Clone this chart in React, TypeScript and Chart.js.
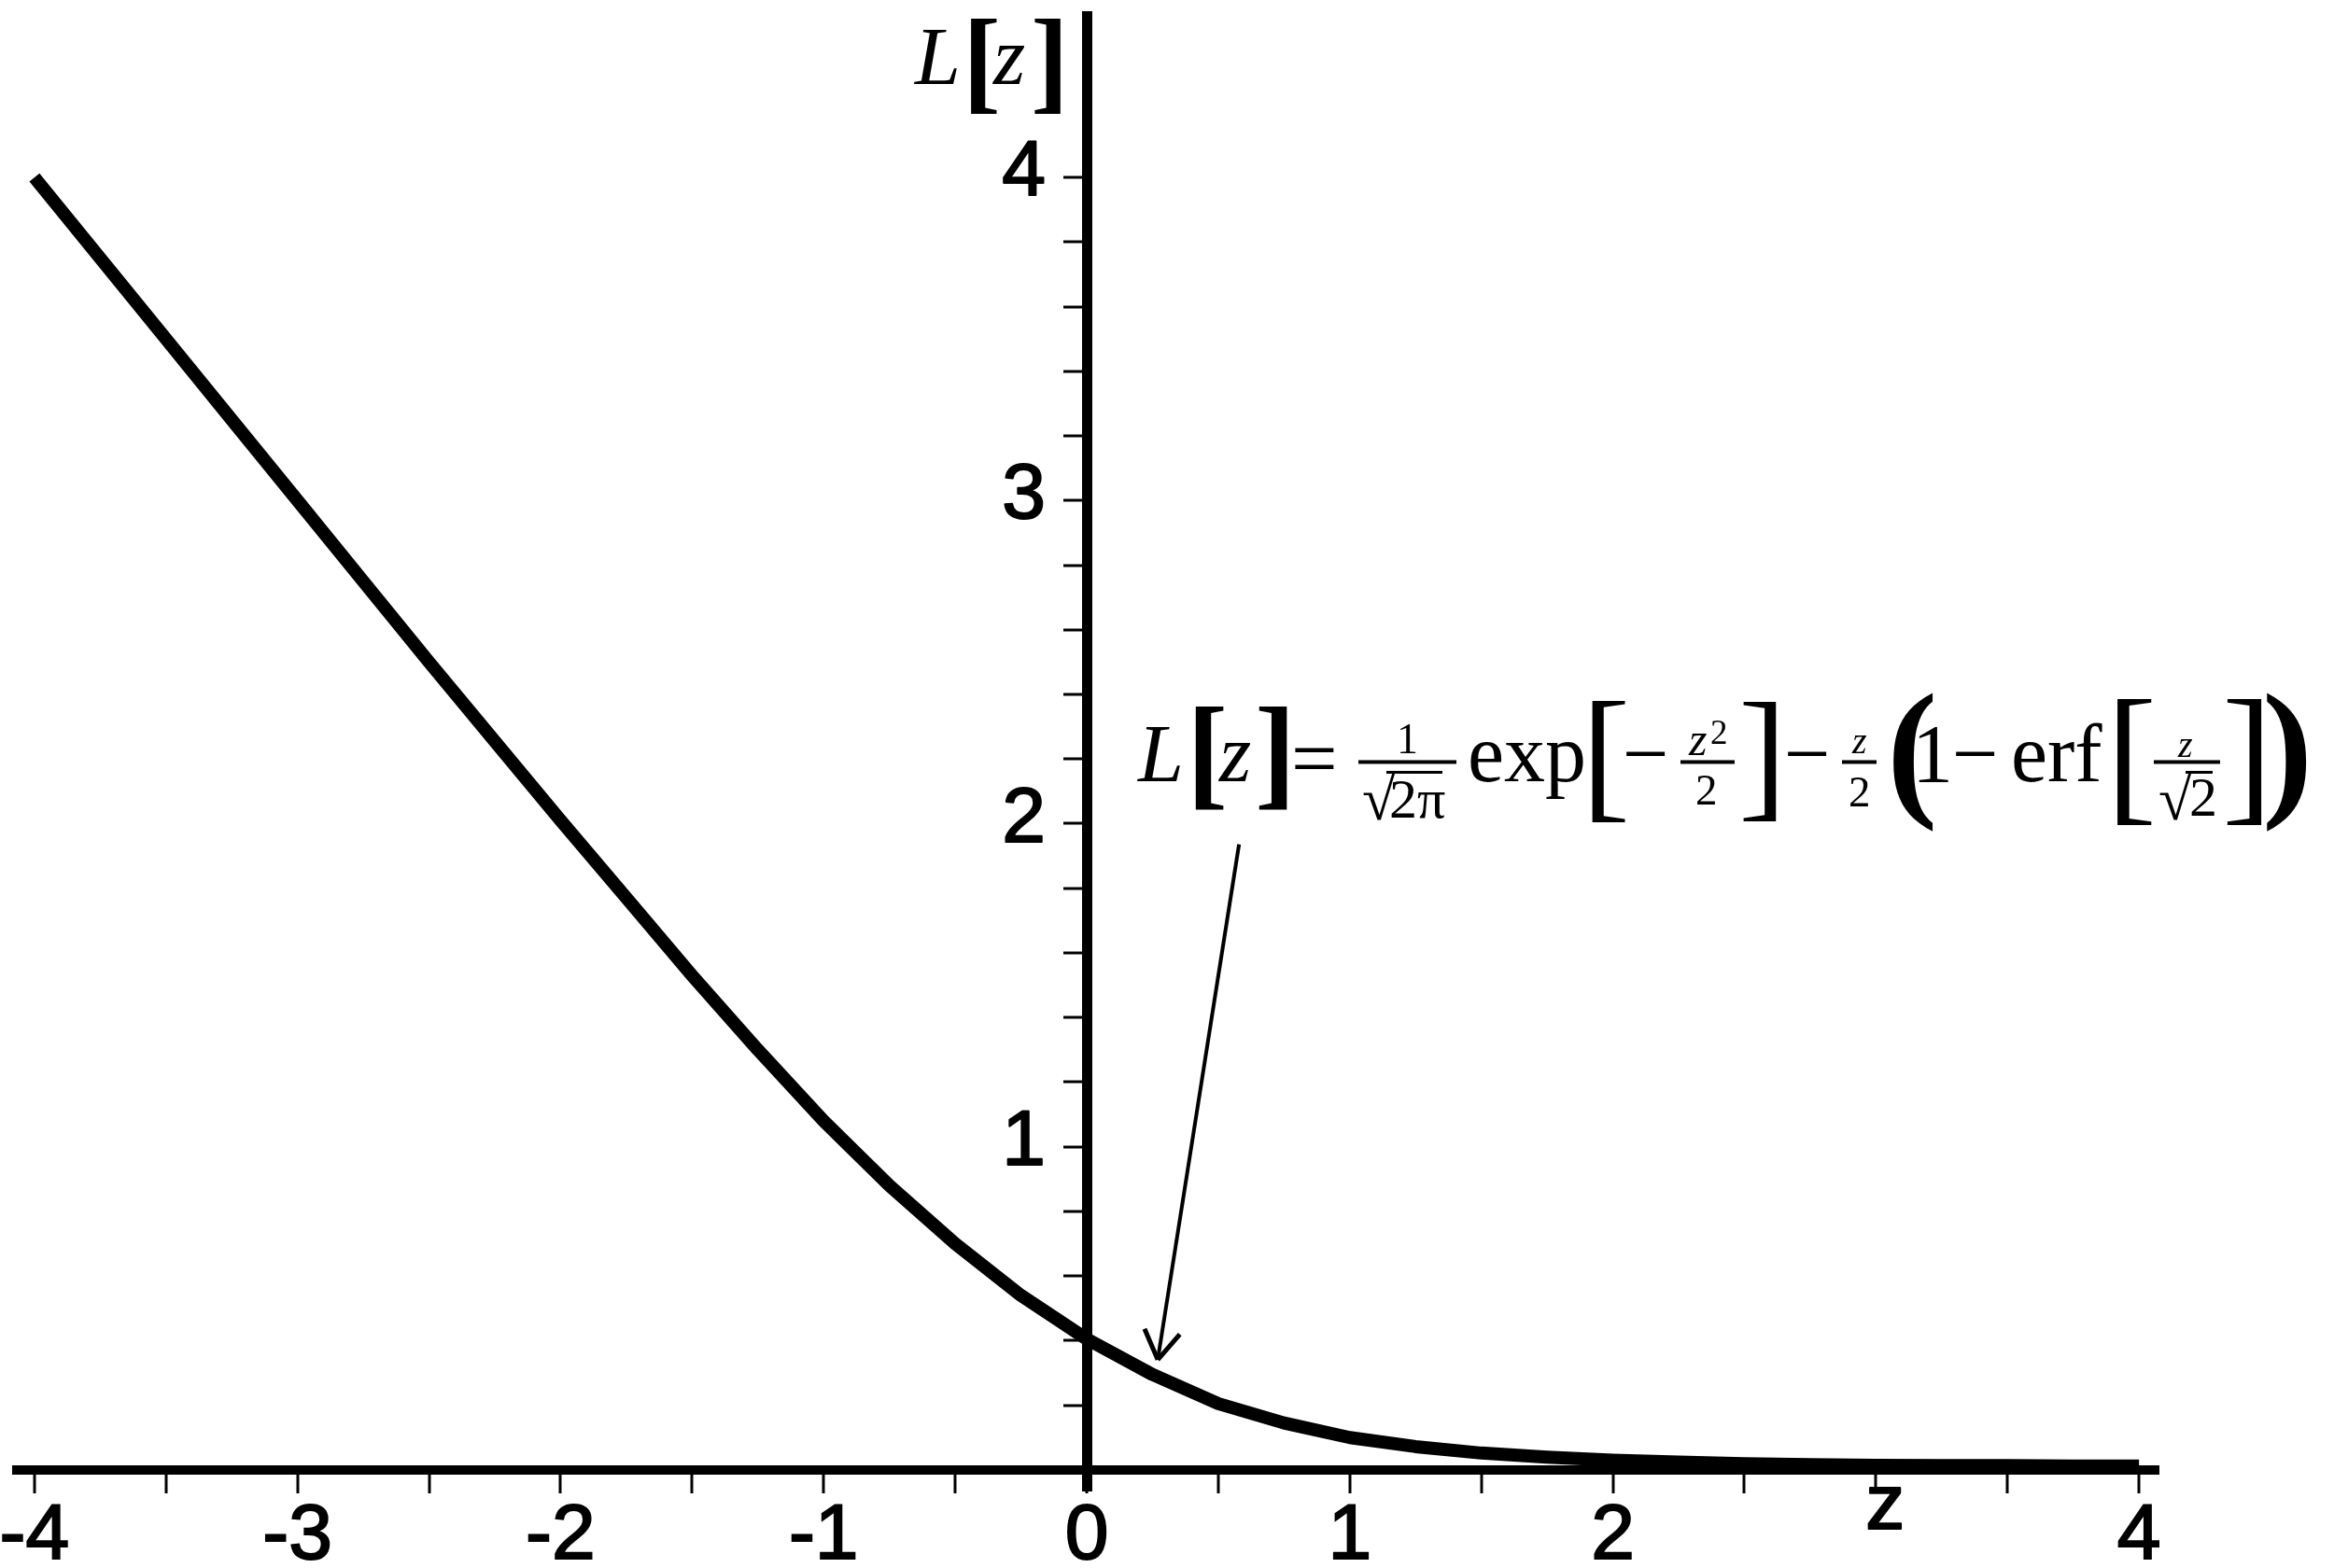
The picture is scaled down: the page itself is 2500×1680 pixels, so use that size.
import React, { useEffect, useRef } from 'react';
import { Chart, registerables } from 'chart.js';

Chart.register(...registerables);

// curve samples
const zValues = [
  -4, -3.75, -3.5, -3.25, -3, -2.75, -2.5, -2.25, -2, -1.75, -1.5, -1.25, -1, -0.75, -0.5, -0.25,
  0, 0.25, 0.5, 0.75, 1, 1.25, 1.5, 1.75, 2, 2.25, 2.5, 2.75, 3, 3.25, 3.5, 3.75, 4,
];
const lossValues = [
  4.0, 3.75, 3.5, 3.25, 3.0, 2.75, 2.5, 2.255, 2.01, 1.77, 1.53, 1.3, 1.08, 0.88, 0.7, 0.54,
  0.405, 0.295, 0.205, 0.145, 0.1, 0.072, 0.052, 0.039, 0.03, 0.024, 0.019, 0.016, 0.014, 0.013, 0.013, 0.012, 0.012,
];

const xMajorTicks = [-4, -3, -2, -1, 0, 1, 2, 3, 4];
const xMajorLabels = ['-4', '-3', '-2', '-1', '0', '1', '2', '', '4'];
const xMinorTicks = [-3.5, -2.5, -1.5, -0.5, 0.5, 1.5, 2.5, 3.5];
const yTicks = [0.2, 0.4, 0.6, 0.8, 1, 1.2, 1.4, 1.6, 1.8, 2, 2.2, 2.4, 2.6, 2.8, 3, 3.2, 3.4, 3.6, 3.8, 4];
const yMajorTicks = [1, 2, 3, 4];
const yMajorLabels = ['1', '2', '3', '4'];

const xAxisName = 'z';
const xAxisNameAt = 3;
const titleAt = [-0.66, 4.289];
const formulaAt = [0.188, 2.13];
const arrowFrom = [0.579, 1.936];
const arrowTo = [0.27, 0.341];

const SERIF = '"Liberation Serif", "Times New Roman", serif';
const SANS = '"Liberation Sans", Arial, sans-serif';

type Piece =
  | { k: 'text'; s: string; style: string; size: number; x: number; y: number }
  | { k: 'box'; s: string; style: string; x: number; top: number; bottom: number }
  | { k: 'rule'; x1: number; x2: number; y: number; w: number };

// ink-left / baseline placement
function textAt(ctx: CanvasRenderingContext2D, s: string, font: string, left: number, baseline: number) {
  ctx.font = font;
  ctx.textAlign = 'left';
  ctx.textBaseline = 'alphabetic';
  const m = ctx.measureText(s);
  ctx.fillText(s, left + m.actualBoundingBoxLeft, baseline);
}

// glyph scaled so its ink fills top..bottom
function glyphInBox(ctx: CanvasRenderingContext2D, s: string, style: string, left: number, top: number, bottom: number) {
  ctx.textAlign = 'left';
  ctx.textBaseline = 'alphabetic';
  ctx.font = `${style} 100px ${SERIF}`;
  const m = ctx.measureText(s);
  const size = (100 * (bottom - top)) / (m.actualBoundingBoxAscent + m.actualBoundingBoxDescent);
  ctx.font = `${style} ${size}px ${SERIF}`;
  const m2 = ctx.measureText(s);
  ctx.fillText(s, left + m2.actualBoundingBoxLeft, top + m2.actualBoundingBoxAscent);
}

function drawPieces(ctx: CanvasRenderingContext2D, pieces: Piece[], ax: number, ay: number) {
  for (const p of pieces) {
    if (p.k === 'text') {
      textAt(ctx, p.s, `${p.style} ${p.size}px ${SERIF}`, ax + p.x, ay + p.y);
    } else if (p.k === 'box') {
      glyphInBox(ctx, p.s, p.style, ax + p.x, ay + p.top, ay + p.bottom);
    } else {
      ctx.fillRect(ax + p.x1, ay + p.y - p.w / 2, p.x2 - p.x1, p.w);
    }
  }
}

const titlePieces: Piece[] = [
  { k: 'text', s: 'L', style: 'italic', size: 88, x: 0, y: 0 },
  { k: 'box', s: '[', style: 'bold', x: 62, top: -70, bottom: 32 },
  { k: 'text', s: 'z', style: 'italic', size: 88, x: 85, y: 0 },
  { k: 'box', s: ']', style: 'bold', x: 130, top: -70, bottom: 32 },
];

const formulaPieces: Piece[] = [
  { k: 'text', s: 'L', style: 'italic', size: 88, x: 0, y: 0 },
  { k: 'box', s: '[', style: 'bold', x: 63, top: -80, bottom: 30 },
  { k: 'text', s: 'z', style: 'italic', size: 88, x: 88, y: 0 },
  { k: 'box', s: ']', style: 'bold', x: 131, top: -80, bottom: 30 },
  { k: 'text', s: '=', style: 'normal', size: 88, x: 170, y: 5 },
  { k: 'rule', x1: 238, x2: 343, y: -21, w: 4 },
  { k: 'text', s: '1', style: 'normal', size: 46, x: 283, y: -30 },
  { k: 'box', s: '√', style: 'normal', x: 243, top: -11, bottom: 42 },
  { k: 'rule', x1: 268, x2: 328, y: -10, w: 3 },
  { k: 'text', s: '2π', style: 'normal', size: 60, x: 273, y: 39 },
  { k: 'text', s: 'exp', style: 'normal', size: 88, x: 358, y: 0 },
  { k: 'box', s: '[', style: 'normal', x: 488, top: -86, bottom: 44 },
  { k: 'text', s: '−', style: 'normal', size: 88, x: 525, y: 0 },
  { k: 'rule', x1: 583, x2: 641, y: -21, w: 4 },
  { k: 'text', s: 'z', style: 'italic', size: 50, x: 591, y: -28 },
  { k: 'text', s: '2', style: 'normal', size: 37, x: 616, y: -40 },
  { k: 'text', s: '2', style: 'normal', size: 47, x: 601, y: 25 },
  { k: 'box', s: ']', style: 'normal', x: 650, top: -85, bottom: 44 },
  { k: 'text', s: '−', style: 'normal', size: 88, x: 698, y: 0 },
  { k: 'rule', x1: 756, x2: 793, y: -21, w: 4 },
  { k: 'text', s: 'z', style: 'italic', size: 40, x: 766, y: -30 },
  { k: 'text', s: '2', style: 'normal', size: 47, x: 765, y: 27 },
  { k: 'box', s: '(', style: 'bold', x: 811, top: -95, bottom: 55 },
  { k: 'text', s: '1', style: 'normal', size: 88, x: 838, y: 0 },
  { k: 'text', s: '−', style: 'normal', size: 88, x: 878, y: 0 },
  { k: 'text', s: 'erf', style: 'normal', size: 88, x: 940, y: 0 },
  { k: 'box', s: '[', style: 'normal', x: 1051, top: -88, bottom: 47 },
  { k: 'rule', x1: 1090, x2: 1161, y: -21, w: 4 },
  { k: 'text', s: 'z', style: 'italic', size: 40, x: 1115, y: -26 },
  { k: 'box', s: '√', style: 'normal', x: 1096, top: -11, bottom: 42 },
  { k: 'rule', x1: 1124, x2: 1153, y: -10, w: 3 },
  { k: 'text', s: '2', style: 'normal', size: 60, x: 1130, y: 37 },
  { k: 'box', s: ']', style: 'normal', x: 1168, top: -88, bottom: 47 },
  { k: 'box', s: ')', style: 'bold', x: 1211, top: -95, bottom: 55 },
];

const near = (a: number, b: number) => Math.abs(a - b) < 1e-6;

const annotations = {
  id: 'annotations',
  afterDraw(chart: Chart) {
    const ctx = chart.ctx;
    const xs = chart.scales.x;
    const ys = chart.scales.y;
    const x0 = xs.getPixelForValue(0);
    const y0 = ys.getPixelForValue(0);
    ctx.save();
    ctx.fillStyle = '#000';
    ctx.strokeStyle = '#000';
    ctx.lineJoin = 'round';

    // y tick labels, left of the axis
    ctx.font = `84px ${SANS}`;
    ctx.textAlign = 'right';
    ctx.textBaseline = 'middle';
    ctx.lineWidth = 2;
    ys.ticks.forEach((t) => {
      const i = yMajorTicks.findIndex((v) => near(v, t.value));
      if (i < 0) return;
      const py = ys.getPixelForValue(t.value) - 4;
      ctx.fillText(yMajorLabels[i], x0 - 44, py);
      ctx.strokeText(yMajorLabels[i], x0 - 44, py);
    });

    // axis name in place of the tick label
    ctx.font = `84px ${SANS}`;
    const zm = ctx.measureText(xAxisName);
    ctx.textAlign = 'center';
    ctx.textBaseline = 'alphabetic';
    const zx = xs.getPixelForValue(xAxisNameAt) + 10;
    const zy = y0 + 42 + zm.actualBoundingBoxAscent;
    ctx.fillText(xAxisName, zx, zy);
    ctx.strokeText(xAxisName, zx, zy);

    drawPieces(ctx, titlePieces, xs.getPixelForValue(titleAt[0]), ys.getPixelForValue(titleAt[1]));
    drawPieces(ctx, formulaPieces, xs.getPixelForValue(formulaAt[0]), ys.getPixelForValue(formulaAt[1]));

    // arrow
    const fx = xs.getPixelForValue(arrowFrom[0]);
    const fy = ys.getPixelForValue(arrowFrom[1]);
    const tx = xs.getPixelForValue(arrowTo[0]);
    const ty = ys.getPixelForValue(arrowTo[1]);
    ctx.lineCap = 'butt';
    ctx.lineWidth = 4;
    ctx.beginPath();
    ctx.moveTo(fx, fy);
    ctx.lineTo(tx, ty);
    ctx.stroke();
    const ang = Math.atan2(fy - ty, fx - tx);
    ctx.lineWidth = 5;
    ctx.beginPath();
    for (const s of [-1, 1]) {
      const a = ang + s * 0.56;
      ctx.moveTo(tx, ty);
      ctx.lineTo(tx + 36 * Math.cos(a), ty + 36 * Math.sin(a));
    }
    ctx.stroke();
    ctx.restore();
  },
};

const zeroPadding = (s: any) => {
  s.paddingLeft = 0;
  s.paddingRight = 0;
  s.paddingTop = 0;
  s.paddingBottom = 0;
};

const App: React.FC = () => {
  const chartRef = useRef<HTMLCanvasElement>(null);
  const chartInstance = useRef<Chart | null>(null);

  useEffect(() => {
    if (!chartRef.current) return;
    if (chartInstance.current) chartInstance.current.destroy();

    chartInstance.current = new Chart(chartRef.current, {
      type: 'line',
      data: {
        datasets: [
          {
            data: zValues.map((z, i) => ({ x: z, y: lossValues[i] })),
            borderColor: '#000',
            borderWidth: 14,
            borderJoinStyle: 'round',
            borderCapStyle: 'butt',
            pointRadius: 0,
            tension: 0,
            fill: false,
          },
        ],
      },
      options: {
        animation: false,
        responsive: false,
        events: [],
        layout: { padding: { left: 18, right: 188, top: 17, bottom: 83 } },
        plugins: { legend: { display: false }, tooltip: { enabled: false } },
        scales: {
          x: {
            type: 'linear',
            min: -4.067,
            max: 4.074,
            position: { y: 0 } as any,
            afterBuildTicks: (s: any) => {
              s.ticks = [...xMajorTicks, ...xMinorTicks].sort((a, b) => a - b).map((value) => ({ value }));
            },
            afterFit: zeroPadding,
            border: { display: true, color: '#000', width: 10 },
            grid: { drawOnChartArea: false, drawTicks: true, tickLength: 20, tickWidth: 3, tickColor: '#000', lineWidth: 2 },
            ticks: {
              autoSkip: false,
              maxRotation: 0,
              padding: 2,
              color: '#000',
              textStrokeColor: '#000',
              textStrokeWidth: 2,
              font: { family: SANS, size: 84 },
              callback: (v: any) => {
                const i = xMajorTicks.findIndex((t) => near(t, Number(v)));
                return i >= 0 ? xMajorLabels[i] : '';
              },
            },
          },
          y: {
            type: 'linear',
            min: -0.064,
            max: 4.5,
            position: { x: 0 } as any,
            afterBuildTicks: (s: any) => {
              s.ticks = yTicks.map((value) => ({ value }));
            },
            afterFit: zeroPadding,
            border: { display: true, color: '#000', width: 11 },
            grid: { drawOnChartArea: false, drawTicks: true, tickLength: 20, tickWidth: 3, tickColor: '#000', lineWidth: 2 },
            ticks: { display: false },
          },
        },
      },
      plugins: [annotations],
    });

    return () => {
      if (chartInstance.current) {
        chartInstance.current.destroy();
        chartInstance.current = null;
      }
    };
  }, []);

  return (
    <div style={{ position: 'absolute', left: 0, top: 0, width: 2500, height: 1680, background: '#fff' }}>
      <canvas ref={chartRef} width={2500} height={1680} style={{ display: 'block' }}></canvas>
    </div>
  );
};

export default App;
